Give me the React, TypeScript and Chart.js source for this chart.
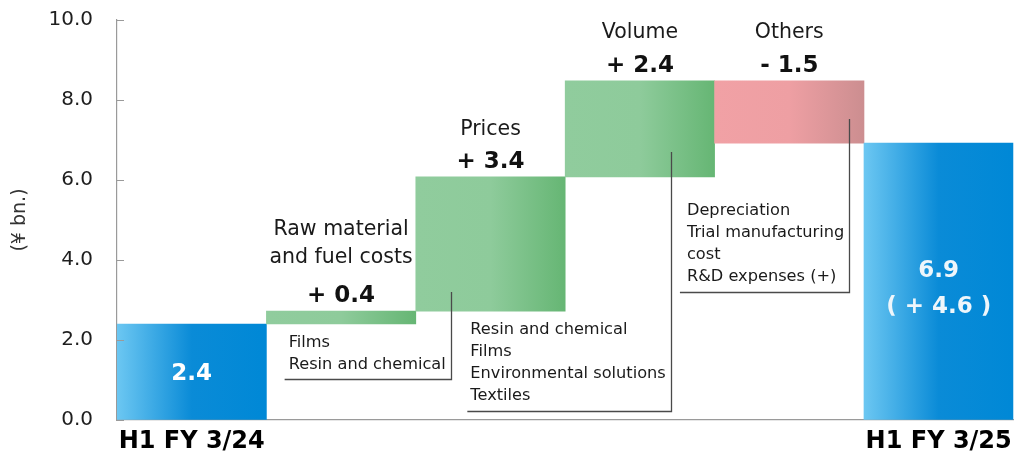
import React, { useEffect, useRef } from "react";
import { Chart, registerables } from "chart.js";
Chart.register(...registerables);

// ---- data ----
const categories = ["H1 FY 3/24", "Raw material and fuel costs", "Prices", "Volume", "Others", "H1 FY 3/25"];
const axisLabels = ["H1 FY 3/24", "", "", "", "", "H1 FY 3/25"];
const barStarts = [0, 2.4, 2.72, 6.08, 8.48, 0];
const barEnds = [2.4, 2.72, 6.08, 8.48, 6.92, 6.92];
const barKinds = ["total", "up", "up", "up", "down", "total"];
const headerLines = [[], ["Raw material", "and fuel costs"], ["Prices"], ["Volume"], ["Others"], []];
const deltaLabels = ["", "+ 0.4", "+ 3.4", "+ 2.4", "- 1.5", ""];
const totalLabels = [["2.4"], [], [], [], [], ["6.9", "( + 4.6 )"]];
const noteLines = [
  [],
  ["Films", "Resin and chemical"],
  ["Resin and chemical", "Films", "Environmental solutions", "Textiles"],
  [],
  ["Depreciation", "Trial manufacturing", "cost", "R&D expenses (+)"],
  [],
];

// ---- styles / layout (not data) ----
const FONT = "'DejaVu Sans', 'Noto Sans', sans-serif";
const gradients: Record<string, [number, string][]> = {
  total: [[0, "#6cc7f2"], [0.5, "#0a8bd7"], [1, "#0088d6"]],
  up: [[0, "#90cc9d"], [0.5, "#8ecb9b"], [1, "#66b674"]],
  down: [[0, "#f1a1a5"], [0.5, "#ee9fa3"], [1, "#cc8e90"]],
};
const headerOffsets: Record<number, number[]> = { 1: [-82, -54], 2: [-47], 3: [-48], 4: [-48] };
const deltaOffset = -15;
const callouts: Record<number, { vx: number; vTop: number; vBot: number; hx: number; tx: number; ty: number }> = {
  1: { vx: 1.738, vTop: 3.2, vBot: 1.025, hx: 0.622, tx: 0.649, ty: 1.925 },
  2: { vx: 3.208, vTop: 6.7, vBot: 0.225, hx: 1.845, tx: 1.865, ty: 2.25 },
  4: { vx: 4.397, vTop: 7.525, vBot: 3.2, hx: 3.268, tx: 3.315, ty: 5.225 },
};
const totalLabelY: Record<number, number[]> = { 0: [1.15], 5: [3.72, 2.82] };

const annotationPlugin = {
  id: "waterfallAnnotations",
  afterDatasetsDraw(chart: any) {
    const { ctx } = chart;
    const xs = chart.scales.x;
    const ys = chart.scales.y;
    ctx.save();
    ctx.strokeStyle = "#9a9a9a";
    ctx.lineWidth = 1;
    ys.ticks.forEach((t: any) => {
      const y = Math.round(ys.getPixelForValue(t.value)) + 0.5;
      ctx.beginPath();
      ctx.moveTo(xs.left, y);
      ctx.lineTo(xs.left + 7, y);
      ctx.stroke();
    });
    ctx.textAlign = "center";
    ctx.textBaseline = "middle";
    categories.forEach((_, i) => {
      const cx = xs.getPixelForValue(i);
      const top = ys.getPixelForValue(Math.max(barStarts[i], barEnds[i]));
      const offs = headerOffsets[i];
      if (offs) {
        ctx.fillStyle = "#1a1a1a";
        ctx.font = `20.5px ${FONT}`;
        headerLines[i].forEach((line, k) => ctx.fillText(line, cx, top + offs[k]));
      }
      if (deltaLabels[i]) {
        ctx.fillStyle = "#111";
        ctx.font = `bold 23px ${FONT}`;
        ctx.fillText(deltaLabels[i], cx, top + deltaOffset);
      }
      const tl = totalLabelY[i];
      if (tl) {
        ctx.fillStyle = i === 5 ? "#eef6fb" : "#ffffff";
        ctx.font = `bold 23px ${FONT}`;
        totalLabels[i].forEach((line, k) => ctx.fillText(line, cx, ys.getPixelForValue(tl[k])));
      }
    });
    Object.keys(callouts).forEach((key) => {
      const i = Number(key);
      const c = callouts[i];
      const vx = Math.round(xs.getPixelForValue(c.vx)) + 0.5;
      const vTop = ys.getPixelForValue(c.vTop);
      const vBot = Math.round(ys.getPixelForValue(c.vBot)) + 0.5;
      const hx = xs.getPixelForValue(c.hx);
      ctx.strokeStyle = "#4a4a4a";
      ctx.lineWidth = 1.3;
      ctx.beginPath();
      ctx.moveTo(vx, vTop);
      ctx.lineTo(vx, vBot);
      ctx.lineTo(hx, vBot);
      ctx.stroke();
      ctx.fillStyle = "#1a1a1a";
      ctx.font = `16.2px ${FONT}`;
      ctx.textAlign = "left";
      ctx.textBaseline = "middle";
      const tx = xs.getPixelForValue(c.tx);
      const ty = ys.getPixelForValue(c.ty);
      noteLines[i].forEach((line, k) => ctx.fillText(line, tx, ty + k * 22));
    });
    ctx.restore();
  },
};

export default function App() {
  const ref = useRef<HTMLCanvasElement | null>(null);
  useEffect(() => {
    if (!ref.current) return;
    const chart = new Chart(ref.current, {
      type: "bar",
      data: {
        labels: categories,
        datasets: [
          {
            data: barStarts.map((s, i) => [s, barEnds[i]]) as any,
            backgroundColor: (c: any) => {
              const ch = c.chart;
              const xs = ch.scales && ch.scales.x;
              if (!xs || !ch.chartArea) return "#888";
              const i = c.dataIndex;
              const cx = xs.getPixelForValue(i);
              const half = xs.width / categories.length / 2;
              const g = ch.ctx.createLinearGradient(cx - half, 0, cx + half, 0);
              gradients[barKinds[i]].forEach(([p, col]) => g.addColorStop(p, col));
              return g;
            },
            borderWidth: 0,
            categoryPercentage: 1,
            barPercentage: 1,
          },
        ],
      },
      options: {
        animation: false,
        responsive: true,
        maintainAspectRatio: false,
        layout: { padding: { top: 20, right: 3, left: 0, bottom: 0 } },
        plugins: { legend: { display: false }, tooltip: { enabled: false } },
        scales: {
          x: {
            grid: { display: false, drawTicks: false },
            border: { display: true, color: "#9a9a9a", width: 1.2 },
            ticks: {
              autoSkip: false,
              maxRotation: 0,
              padding: 7,
              color: "#000",
              font: { family: FONT, size: 24, weight: "bold" },
              callback: (_v: any, i: number) => axisLabels[i],
            },
            afterFit: (s: any) => {
              s.height = 35;
            },
          },
          y: {
            min: 0,
            max: 10,
            grid: {
              display: true,
              drawOnChartArea: false,
              drawTicks: true,
              tickLength: 24,
              color: "rgba(0,0,0,0)",
            },
            border: { display: true, color: "#9a9a9a", width: 1.2 },
            ticks: {
              stepSize: 2,
              padding: 0,
              color: "#1e1e1e",
              font: { family: FONT, size: 20 },
              callback: (v: any) => Number(v).toFixed(1),
            },
            title: {
              display: true,
              text: "(¥ bn.)",
              color: "#333",
              font: { family: FONT, size: 19 },
              padding: { top: 9, bottom: 0 },
            },
            afterFit: (s: any) => {
              s.width = 117;
            },
          },
        },
      } as any,
      plugins: [annotationPlugin],
    });
    return () => chart.destroy();
  }, []);
  return (
    <div style={{ position: "absolute", left: 0, top: 0, width: 1019, height: 455, background: "#fff" }}>
      <canvas ref={ref} />
    </div>
  );
}
